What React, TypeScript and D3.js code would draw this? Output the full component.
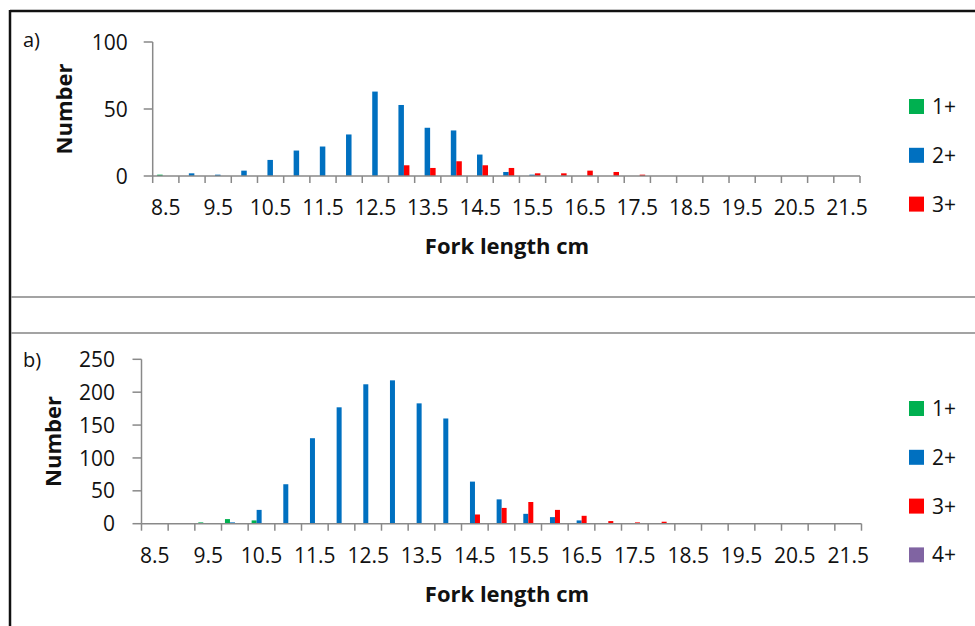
import { useMemo } from "react";
import * as d3 from "d3";

// fork length classes (cm)
const lengths = [
  "8.5", "9", "9.5", "10", "10.5", "11", "11.5", "12", "12.5", "13", "13.5", "14", "14.5", "15",
  "15.5", "16", "16.5", "17", "17.5", "18", "18.5", "19", "19.5", "20", "20.5", "21", "21.5",
];

// panel a) counts per age group
const a1plus = [1, 0, 0, 0, 0, 0, 0, 0, 0, 0, 0, 0, 0, 0, 0, 0, 0, 0, 0, 0, 0, 0, 0, 0, 0, 0, 0];
const a2plus = [0, 2, 1, 4, 12, 19, 22, 31, 63, 53, 36, 34, 16, 3, 1, 0, 0, 0, 0, 0, 0, 0, 0, 0, 0, 0, 0];
const a3plus = [0, 0, 0, 0, 0, 0, 0, 0, 0, 8, 6, 11, 8, 6, 2, 2, 4, 3, 1, 0, 0, 0, 0, 0, 0, 0, 0];

// panel b) counts per age group
const b1plus = [0, 0, 2, 7, 5, 0, 0, 0, 0, 0, 0, 0, 0, 0, 0, 0, 0, 0, 0, 0, 0, 0, 0, 0, 0, 0, 0];
const b2plus = [0, 0, 0, 2, 21, 60, 130, 177, 212, 218, 183, 160, 64, 37, 15, 10, 5, 0, 0, 0, 0, 0, 0, 0, 0, 0, 0];
const b3plus = [0, 0, 0, 0, 0, 0, 0, 0, 0, 0, 0, 0, 14, 24, 33, 21, 12, 4, 2, 3, 0, 1, 0, 0, 0, 0, 0];
const b4plus = [0, 0, 0, 0, 0, 0, 0, 0, 0, 0, 0, 0, 0, 0, 0, 0, 0, 0, 0, 0, 0, 0, 0, 0, 0, 0, 0];

const aTicks = [0, 50, 100];
const bTicks = [0, 50, 100, 150, 200, 250];

const COLORS: Record<string, string> = {
  "1+": "#00b050",
  "2+": "#0070c0",
  "3+": "#ff0000",
  "4+": "#8064a2",
};

const AXIS = "#898989";
const FONT = "'Open Sans', sans-serif";

type Series = { key: string; values: number[] };

type PanelProps = {
  tag: string;
  series: Series[];
  ticks: number[];
  x0: number;
  x1: number;
  yTop: number;
  yZero: number;
  groupFrac: [number, number];
  labelGap: number;
  tagY: number;
  titleX: number;
  legendTop: number;
};

function Panel({ tag, series, ticks, x0, x1, yTop, yZero, groupFrac, labelGap, tagY, titleX, legendTop }: PanelProps) {
  const x = useMemo(() => d3.scaleBand().domain(lengths).range([x0, x1]).padding(0), [x0, x1]);
  const y = useMemo(
    () => d3.scaleLinear().domain([0, d3.max(ticks) as number]).range([yZero, yTop]),
    [ticks, yZero, yTop]
  );
  const bw = x.bandwidth();
  const sub = d3
    .scaleBand()
    .domain(series.map((s) => s.key))
    .range([bw * groupFrac[0], bw * groupFrac[1]])
    .padding(0);

  const bars = series.flatMap((s) =>
    s.values.map((v, i) => {
      if (!v) return null;
      const xx = (x(lengths[i]) as number) + (sub(s.key) as number);
      return (
        <rect
          key={s.key + i}
          x={xx}
          y={y(v)}
          width={sub.bandwidth()}
          height={yZero - y(v)}
          fill={COLORS[s.key]}
        />
      );
    })
  );

  const xTicks = [...lengths.map((c) => x(c) as number), x1];

  return (
    <g>
      <text x={23} y={tagY} fontFamily={FONT} fontSize={20} fill="#111">
        {tag}
      </text>
      <text
        transform={`translate(${x0 - 81},${(yTop + yZero) / 2}) rotate(-90)`}
        textAnchor="middle"
        fontFamily={FONT}
        fontWeight={700}
        fontSize={22}
        fill="#111"
      >
        Number
      </text>

      {/* y axis */}
      <line x1={x0} x2={x0} y1={yTop} y2={yZero} stroke={AXIS} strokeWidth={1.5} />
      {ticks.map((t) => (
        <g key={t}>
          <line x1={x0 - 9} x2={x0} y1={y(t)} y2={y(t)} stroke={AXIS} strokeWidth={1.5} />
          <text
            x={x0 - labelGap}
            y={y(t)}
            dy="0.36em"
            textAnchor="end"
            fontFamily={FONT}
            fontSize={21}
            fill="#111"
          >
            {t}
          </text>
        </g>
      ))}

      {bars}

      {/* x axis */}
      <line x1={x0} x2={x1} y1={yZero} y2={yZero} stroke={AXIS} strokeWidth={1.5} />
      {xTicks.map((t, i) => (
        <line key={i} x1={t} x2={t} y1={yZero} y2={yZero + 7} stroke={AXIS} strokeWidth={1.5} />
      ))}
      {lengths
        .filter((c) => c.endsWith(".5"))
        .map((c) => (
          <text
            key={c}
            x={(x(c) as number) + bw / 2}
            y={yZero + 39}
            textAnchor="middle"
            fontFamily={FONT}
            fontSize={21}
            fill="#111"
          >
            {c}
          </text>
        ))}
      <text
        x={titleX}
        y={yZero + 78}
        textAnchor="middle"
        fontFamily={FONT}
        fontWeight={700}
        fontSize={22}
        fill="#111"
      >
        Fork length cm
      </text>

      {/* legend */}
      {series.map((s, i) => (
        <g key={s.key} transform={`translate(909,${legendTop + i * 48.8})`}>
          <rect x={0} y={0} width={15} height={15} fill={COLORS[s.key]} />
          <text x={23} y={15} fontFamily={FONT} fontSize={21} fill="#111">
            {s.key}
          </text>
        </g>
      ))}
    </g>
  );
}

export default function App() {
  const seriesA: Series[] = [
    { key: "1+", values: a1plus },
    { key: "2+", values: a2plus },
    { key: "3+", values: a3plus },
  ];
  const seriesB: Series[] = [
    { key: "1+", values: b1plus },
    { key: "2+", values: b2plus },
    { key: "3+", values: b3plus },
    { key: "4+", values: b4plus },
  ];

  return (
    <svg
      width={975}
      height={626}
      style={{ position: "absolute", left: 0, top: 0, background: "#fff" }}
    >
      <rect width={975} height={626} fill="#fff" />
      {/* frames */}
      <line x1={10} x2={975} y1={11} y2={11} stroke="#111" strokeWidth={2.5} />
      <line x1={10} x2={10} y1={10} y2={626} stroke="#111" strokeWidth={2.5} />
      <line x1={11} x2={975} y1={297} y2={297} stroke="#a3a3a3" strokeWidth={2} />
      <line x1={11} x2={975} y1={333} y2={333} stroke="#a3a3a3" strokeWidth={2} />

      <Panel
        tag="a)"
        series={seriesA}
        ticks={aTicks}
        x0={152.7}
        x1={860}
        yTop={42}
        yZero={176}
        groupFrac={[0.17, 0.8]}
        labelGap={25}
        tagY={47}
        titleX={507}
        legendTop={99}
      />
      <Panel
        tag="b)"
        series={seriesB}
        ticks={bTicks}
        x0={141.5}
        x1={861.5}
        yTop={359.3}
        yZero={523.7}
        groupFrac={[0.13, 0.88]}
        labelGap={26.5}
        tagY={367}
        titleX={507}
        legendTop={401}
      />
    </svg>
  );
}
